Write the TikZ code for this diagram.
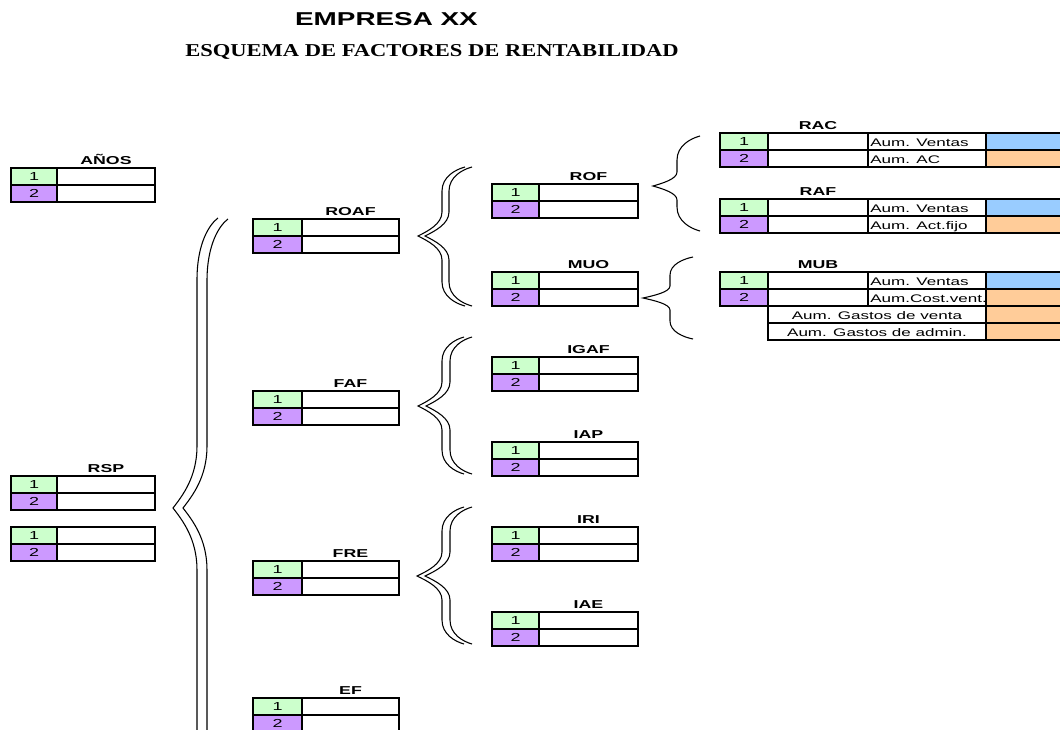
\documentclass[tikz,border=0pt]{standalone}
\usepackage{fontspec}
\setmainfont{Liberation Sans}
\newfontfamily\serifb{Liberation Serif}
\definecolor{lgreen}{HTML}{CCFFCC}
\definecolor{lpurple}{HTML}{CC99FF}
\definecolor{lblue}{HTML}{99CCFF}
\definecolor{lorange}{HTML}{FFCC99}
\newcommand\sx[1]{\scalebox{1.55}[1]{#1}}
\tikzset{
  cell/.style={line width=1.4pt},
  lbl/.style={font=\fontsize{8.7}{9}\selectfont, inner sep=0pt},
  ttl/.style={font=\bfseries\fontsize{8.6}{9}\selectfont, inner sep=0pt, anchor=base},
  aum/.style={font=\fontsize{8.25}{9}\selectfont, inner sep=0pt, anchor=base west},
  brc/.style={line width=0.8pt},
}
% two-row table: name, x, ytop, title, label width, value width
\newcommand\tabtwo[6]{%
  \fill[lgreen] (#2,#3) rectangle ++(#5,17);
  \fill[lpurple] (#2,#3+17) rectangle ++(#5,17);
  \draw[cell] (#2,#3) rectangle ++(#5+#6,34);
  \draw[cell] (#2,#3+17) -- ++(#5+#6,0);
  \draw[cell] (#2+#5,#3) -- ++(0,34);
  \node[lbl] (#1a) at (#2+#5/2,#3+8.5) {\sx{1}};
  \node[lbl] (#1b) at (#2+#5/2,#3+25.5) {\sx{2}};
  \node[ttl] (#1) at (#2+#5+#6/2,#3-4) {\sx{#4}};
}
% four-column table: name, ytop, title, text1, text2
\newcommand\tabfour[5]{%
  \fill[lgreen] (720,#2) rectangle (768,#2+17);
  \fill[lpurple] (720,#2+17) rectangle (768,#2+34);
  \fill[lblue] (986,#2) rectangle (1070,#2+17);
  \fill[lorange] (986,#2+17) rectangle (1070,#2+34);
  \draw[cell] (720,#2) rectangle (1070,#2+34);
  \draw[cell] (720,#2+17) -- (1070,#2+17);
  \draw[cell] (768,#2) -- (768,#2+34);
  \draw[cell] (868,#2) -- (868,#2+34);
  \draw[cell] (986,#2) -- (986,#2+34);
  \node[lbl] (#1a) at (744,#2+8.5) {\sx{1}};
  \node[lbl] (#1b) at (744,#2+25.5) {\sx{2}};
  \node[ttl] (#1) at (818,#2-4) {\sx{#3}};
  \node[aum] (#1c) at (870,#2+13) {\sx{#4}};
  \node[aum] (#1d) at (870,#2+30) {\sx{#5}};
}
% brace: xr, ytop, xv, xtip, ytip, ybot, r1, r2
\newcommand\brc[8]{%
  \draw[brc] (#1,#2) .. controls ({#1-0.4*(#1-#3)},{#2+0.1*#7}) and (#3,{#2+0.4*#7}) .. (#3,{#2+#7})
    -- (#3,{#5-#8}) .. controls (#3,{#5-0.5*#8}) and ({#4+0.4*(#3-#4)},{#5-0.2*#8}) .. (#4,#5)
    .. controls ({#4+0.4*(#3-#4)},{#5+0.2*#8}) and (#3,{#5+0.5*#8}) .. (#3,{#5+#8})
    -- (#3,{#6-#7}) .. controls (#3,{#6-0.4*#7}) and ({#1-0.4*(#1-#3)},{#6-0.1*#7}) .. (#1,#6);
}
\begin{document}
\begin{tikzpicture}[x=0.75pt,y=-0.75pt]
\useasboundingbox (0,0) rectangle (1060,729);
\fill[white] (0,0) rectangle (1060,729);
\begin{scope}
\clip (0,0) rectangle (1060,729);
% titles
\node[anchor=base, inner sep=0pt] (empresa) at (386.5,25) {\resizebox{137pt}{9.75pt}{\bfseries EMPRESA XX}};
\node[anchor=base, inner sep=0pt] (esquema) at (432,56) {\resizebox{370pt}{9pt}{\serifb\bfseries ESQUEMA DE FACTORES DE RENTABILIDAD}};
% column A
\tabtwo{anos}{11}{168}{AÑOS}{46}{98}
\tabtwo{rsp}{11}{476}{RSP}{46}{98}
\tabtwo{rspb}{11}{527}{}{46}{98}
% column B
\tabtwo{roaf}{253}{219}{ROAF}{49}{97}
\tabtwo{faf}{253}{391}{FAF}{49}{97}
\tabtwo{fre}{253}{561}{FRE}{49}{97}
\tabtwo{ef}{253}{698}{EF}{49}{97}
% column C
\tabtwo{rof}{492}{184}{ROF}{47}{99}
\tabtwo{muo}{492}{272}{MUO}{47}{99}
\tabtwo{igaf}{492}{357}{IGAF}{47}{99}
\tabtwo{iap}{492}{442}{IAP}{47}{99}
\tabtwo{iri}{492}{527}{IRI}{47}{99}
\tabtwo{iae}{492}{612}{IAE}{47}{99}
% column D
\tabfour{rac}{133}{RAC}{Aum. Ventas}{Aum. AC}
\tabfour{raf}{199}{RAF}{Aum. Ventas}{Aum. Act.fijo}
\tabfour{mub}{272}{MUB}{Aum. Ventas}{Aum.Cost.vent.}
\fill[lorange] (986,306) rectangle (1070,340);
\draw[cell] (768,306) rectangle (1070,340);
\draw[cell] (768,323) -- (1070,323);
\draw[cell] (986,306) -- (986,340);
\node[aum, anchor=base] (mube) at (877,319) {\sx{Aum. Gastos de venta}};
\node[aum, anchor=base] (mubf) at (877,336) {\sx{Aum. Gastos de admin.}};
% braces
\brc{218}{218}{197}{173}{508}{798}{62}{62}
\brc{228}{219}{207}{183}{508}{798}{62}{62}
\brc{465}{167}{442}{418}{236}{306}{24}{24}
\brc{472}{167}{449}{425}{236}{306}{24}{24}
\brc{464}{337}{442}{418}{406}{474}{24}{24}
\brc{472}{337}{450}{426}{406}{474}{24}{24}
\brc{464}{507}{442}{417}{576}{644}{24}{24}
\brc{472}{507}{450}{425}{576}{644}{24}{24}
\brc{700}{136}{677}{653}{186}{231}{24}{14}
\brc{693}{257}{670}{643}{298}{339}{18}{12}
\end{scope}
\end{tikzpicture}
\end{document}
